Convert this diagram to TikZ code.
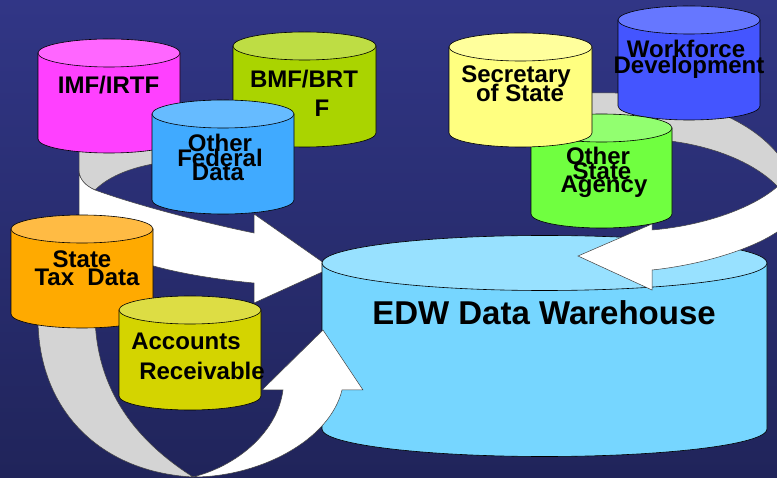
\documentclass[tikz,border=0pt]{standalone}
\usepackage{fontspec}
\setmainfont{Liberation Sans}
\definecolor{bgtop}{HTML}{313686}
\definecolor{bgmid}{HTML}{4348A7}
\definecolor{bgbot}{HTML}{20245A}
\definecolor{ringgray}{HTML}{D4D4D4}
\definecolor{imfB}{HTML}{FF40FF}\definecolor{imfT}{HTML}{FF66FF}
\definecolor{bmfB}{HTML}{AAD400}\definecolor{bmfT}{HTML}{BEDD44}
\definecolor{ofdB}{HTML}{40AAFF}\definecolor{ofdT}{HTML}{66BBFF}
\definecolor{sosB}{HTML}{FFFF80}\definecolor{sosT}{HTML}{FFFF9C}
\definecolor{wfdB}{HTML}{4455FF}\definecolor{wfdT}{HTML}{6677FF}
\definecolor{osaB}{HTML}{70FF40}\definecolor{osaT}{HTML}{92FF70}
\definecolor{stdB}{HTML}{FFAA00}\definecolor{stdT}{HTML}{FFBB44}
\definecolor{acrB}{HTML}{D4D400}\definecolor{acrT}{HTML}{DDDD44}
\definecolor{edwB}{HTML}{76D6FF}\definecolor{edwT}{HTML}{98E1FF}
\newcommand{\drawcyl}[7][14]{%
  \pgfmathsetmacro{\cylcx}{(#2+#3)/2}%
  \pgfmathsetmacro{\cylrx}{(#3-#2)/2}%
  \filldraw[fill=#6, cylline] (#2,#4) -- (#2,#5) arc[start angle=180, end angle=360, x radius=\cylrx pt, y radius=#1 pt] -- (#3,#4) -- cycle;
  \filldraw[fill=#7, cylline] (\cylcx,#4) ellipse [x radius=\cylrx pt, y radius=#1 pt];
}
\begin{document}
\begin{tikzpicture}[x=1pt,y=-1pt,
  cylline/.style={draw=black, line width=0.6pt},
  arrowline/.style={draw=black!75, line width=0.5pt},
  lbl/.style={font=\bfseries\fontsize{24}{24}\selectfont, anchor=base, inner sep=0pt},
  biglbl/.style={font=\bfseries\fontsize{33}{33}\selectfont, anchor=base, inner sep=0pt}]
\useasboundingbox (0,0) rectangle (777,478);
\shade[top color=bgtop, middle color=bgmid, bottom color=bgbot] (0,0) rectangle (777,478);

% upper-left ring arrow
\filldraw[fill=ringgray, arrowline] (79,148) -- (165,148) -- (165,162)
   .. controls (135,166) and (110,175) .. (95,190)
   .. controls (86,186) and (80,180) .. (79,172) -- cycle;
\filldraw[fill=white, arrowline] (79,172) -- (79,215)
   .. controls (85,255) and (170,275) .. (254,283) -- (254,303) -- (331,268) -- (254,214) -- (254,233)
   .. controls (200,222) and (130,203) .. (95,190)
   .. controls (86,186) and (80,180) .. (79,172) -- cycle;

% upper-right ring (back part)
\filldraw[fill=ringgray, arrowline] (585,93) .. controls (680,90) and (745,115) .. (777,153)
   -- (792,172) -- (792,192) -- (777,186)
   .. controls (750,158) and (700,143) .. (660,140) -- (600,126) -- (585,120) -- cycle;

% source cylinders, left group
\drawcyl{38}{180}{53}{139}{imfB}{imfT}
\drawcyl{233}{376}{46}{133}{bmfB}{bmfT}
\drawcyl{152}{294}{114}{200}{ofdB}{ofdT}

% source cylinders, right group
\drawcyl{618}{760}{20}{106}{wfdB}{wfdT}
\drawcyl{531}{672}{128}{214}{osaB}{osaT}
\drawcyl{449}{592}{47}{133}{sosB}{sosT}

% warehouse
\drawcyl[27.5]{322}{767}{263}{429}{edwB}{edwT}

% right arrow (front part)
\filldraw[fill=white, arrowline] (792,178) -- (777,187)
   .. controls (750,210) and (700,226) .. (652,230) -- (652,224) -- (578,256) -- (652,290) -- (652,270)
   .. controls (700,265) and (750,250) .. (777,232) -- (792,225) -- cycle;

% lower arrow
\filldraw[fill=ringgray, arrowline] (38,318) .. controls (38,410) and (100,472) .. (193,477)
   .. controls (135,440) and (97,390) .. (95,318) -- cycle;
\filldraw[fill=white, arrowline] (193,477) .. controls (240,465) and (278,430) .. (283,390)
   -- (262,390) -- (323,330) -- (363,390) -- (342,390)
   .. controls (330,440) and (260,477) .. (193,477) -- cycle;

% lower-left cylinders
\drawcyl{11}{153}{229}{314}{stdB}{stdT}
\drawcyl{119}{261}{310}{396}{acrB}{acrT}

% labels
\node[lbl] (imf) at (108.5,94) {IMF/IRTF};
\node[lbl] (bmf1) at (304,88) {BMF/BRT};
\node[lbl] (bmf2) at (322,117) {F};
\node[lbl] (ofd1) at (220,152) {Other};
\node[lbl] (ofd2) at (220,167) {Federal};
\node[lbl] (ofd3) at (218,181) {Data};
\node[lbl] (sos1) at (516,83) {Secretary};
\node[lbl] (sos2) at (520,102) {of State};
\node[lbl] (wfd1) at (686,58) {Workforce};
\node[lbl] (wfd2) at (689,74) {Development};
\node[lbl] (osa1) at (598,165) {Other};
\node[lbl] (osa2) at (602,180) {State};
\node[lbl] (osa3) at (604,193) {Agency};
\node[lbl] (std1) at (82,268) {State};
\node[lbl] (std2) at (87,286) {Tax~~Data};
\node[lbl] (acr1) at (186,350) {Accounts};
\node[lbl] (acr2) at (202,380) {Receivable};
\node[biglbl] (edw) at (544,325) {EDW Data Warehouse};
\end{tikzpicture}
\end{document}
